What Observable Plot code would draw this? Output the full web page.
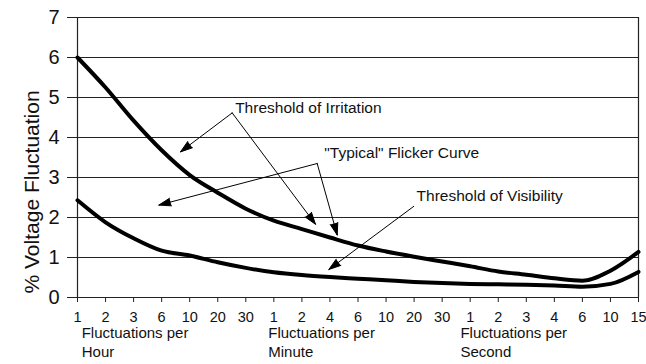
<!DOCTYPE html>
<html><head><meta charset="utf-8">
<script src="https://cdn.jsdelivr.net/npm/d3@7"></script>
<script src="https://cdn.jsdelivr.net/npm/@observablehq/plot@0.6"></script>
<style>html,body{margin:0;padding:0;background:#fff;}</style>
</head><body><div id="chart"></div>
<script>
// x positions are equally spaced categories (index 0..20)
const xTickLabels = ["1","2","3","6","10","20","30","1","2","4","6","10","20","30","1","2","3","4","6","10","15"];
// "Typical" flicker curve / threshold of irritation (% voltage fluctuation)
const irritation = [6.0,5.25,4.42,3.68,3.06,2.62,2.22,1.92,1.71,1.5,1.3,1.15,1.02,0.9,0.78,0.65,0.57,0.48,0.42,0.67,1.14];
// threshold of visibility
const visibility = [2.43,1.88,1.48,1.17,1.05,0.88,0.74,0.63,0.56,0.51,0.47,0.43,0.39,0.36,0.34,0.33,0.32,0.30,0.27,0.34,0.64];
const yTicks = [0,1,2,3,4,5,6,7];
const groupLabels = ["Fluctuations per\nHour","Fluctuations per\nMinute","Fluctuations per\nSecond"];
const groupLabelX = [0.15, 6.8, 13.65];
const yTitle = "% Voltage Fluctuation";
const annotationText = ["Threshold of Irritation", "\"Typical\" Flicker Curve", "Threshold of Visibility"];
const annotationX = [5.62, 8.8, 12.09];
const annotationY = [4.735, 3.615, 2.53];
const arrowFromX = [5.515, 5.515, 8.545, 8.545, 11.99];
const arrowFromY = [4.615, 4.615, 3.35, 3.35, 2.28];
const arrowToX = [3.67, 8.485, 2.9, 9.26, 8.96];
const arrowToY = [3.64, 1.83, 2.31, 1.56, 0.70];

const idx = d3.range(xTickLabels.length);
const ink = "#111";

const chart = Plot.plot({
  width: 646,
  height: 364,
  marginLeft: 77,
  marginRight: 8,
  marginTop: 17,
  marginBottom: 67,
  style: {fontFamily: "'Liberation Sans', Arial, sans-serif", fontSize: "15px", color: ink, background: "#fff"},
  x: {domain: [0, 20], axis: null},
  y: {domain: [0, 7], axis: null},
  marks: [
    Plot.ruleY(yTicks, {stroke: "#222", strokeWidth: 1.2}),
    Plot.ruleX([0, 20], {stroke: "#222", strokeWidth: 1.2}),
    Plot.axisY({ticks: yTicks, tickSize: 10, tickPadding: 8, fontSize: 20, label: null, stroke: "#222", tickFormat: d => String(d)}),
    Plot.axisX({ticks: idx, tickSize: 5, tickPadding: 9, fontSize: 14.5, label: null, tickFormat: i => xTickLabels[i], stroke: "#222"}),
    Plot.line(idx, {x: i => i, y: i => irritation[i], curve: "monotone-x", stroke: "#000", strokeWidth: 4}),
    Plot.line(idx, {x: i => i, y: i => visibility[i], curve: "monotone-x", stroke: "#000", strokeWidth: 4}),
    Plot.arrow(d3.range(arrowFromX.length), {
      x1: i => arrowFromX[i], y1: i => arrowFromY[i],
      x2: i => arrowToX[i], y2: i => arrowToY[i],
      stroke: "#000", fill: "#000", strokeWidth: 1, headLength: 19, headAngle: 36
    }),
    Plot.text(annotationText, {x: (d, i) => annotationX[i], y: (d, i) => annotationY[i], text: d => d, textAnchor: "start", lineAnchor: "middle", fontSize: 15.5, fill: ink}),
    Plot.text(groupLabels, {x: (d, i) => groupLabelX[i], frameAnchor: "bottom", text: d => d, textAnchor: "start", lineAnchor: "top", dy: 27, lineHeight: 1.27, fontSize: 15, fill: ink}),
    Plot.text([yTitle], {frameAnchor: "bottom-left", text: d => d, rotate: -90, textAnchor: "start", lineAnchor: "middle", dx: -45, dy: -4, fontSize: 21, fill: ink})
  ]
});
document.getElementById("chart").appendChild(chart);
</script>
</body></html>
